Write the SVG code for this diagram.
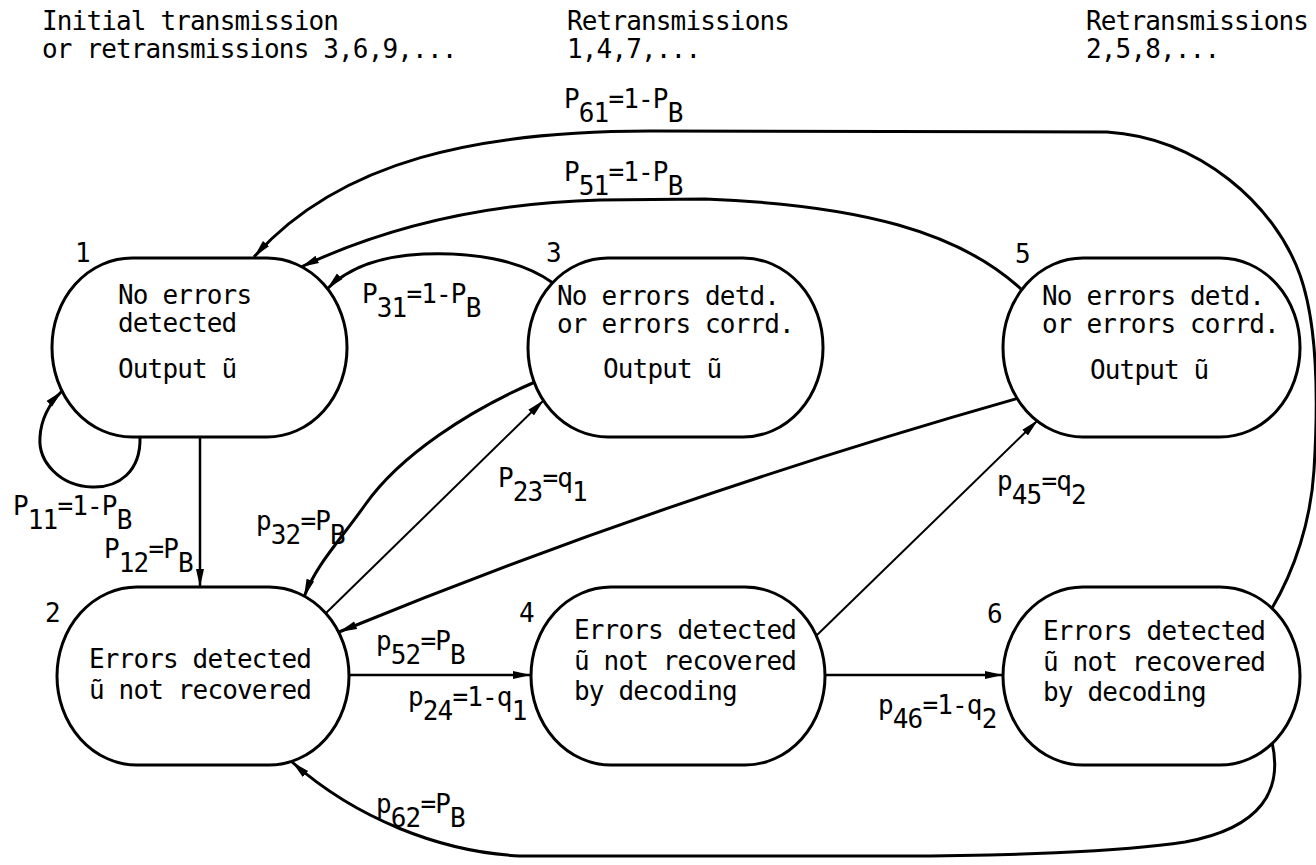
<svg xmlns="http://www.w3.org/2000/svg" width="1316" height="865" viewBox="0 0 1316 865">
<style>
.t{font-family:"DejaVu Sans Mono","Liberation Mono",monospace;font-size:26px;letter-spacing:-0.85px;fill:#000}
.node{fill:#fff;stroke:#000;stroke-width:3}
.e{fill:none;stroke:#000;stroke-width:3;marker-end:url(#ah)}
.thin{stroke-width:2}
.mid{stroke-width:2.5}
</style>
<defs>
<marker id="ah" viewBox="0 0 18 10" refX="18" refY="5" markerWidth="18" markerHeight="10" markerUnits="userSpaceOnUse" orient="auto">
<path d="M0,1 L18,5 L0,9 Z" fill="#000"/>
</marker>
</defs>
<rect width="1316" height="865" fill="#fff"/>
<g id="headers">
<text class="t" x="42" y="30">Initial transmission</text>
<text class="t" x="42" y="58">or retransmissions 3,6,9,...</text>
<text class="t" x="567" y="30">Retransmissions</text>
<text class="t" x="567" y="58">1,4,7,...</text>
<text class="t" x="1086" y="30">Retransmissions</text>
<text class="t" x="1086" y="58">2,5,8,...</text>
</g>
<g id="connectors">
<path class="e" d="M1271,610 C1295,570 1311,520 1314,470 C1319,390 1316,320 1300,275 C1275,205 1200,138 1107,132 L650,131 C480,131 340,160 254,257"/>
<path class="e" d="M1022,290 C960,232 860,205 705,199 L600,200 C490,203 390,225 301,267"/>
<path class="e" d="M553,283 C520,259 470,252 423,254 C380,256 348,268 327,289"/>
<path class="e" d="M140,437 C141,472 118,488 92,487 C60,486 38,462 40,437 C41,420 49,404 62,391"/>
<path class="e mid" d="M200,437 L200,587"/>
<path class="e" d="M535,382 C470,410 400,455 365,505 C338,543 316,565 304,597"/>
<path class="e thin" d="M325,614 L544,400"/>
<path class="e" d="M1019,398 Q660,500 339,632"/>
<path class="e mid" d="M349,675 L531,675"/>
<path class="e thin" d="M816,636 L1038,420"/>
<path class="e mid" d="M825,675 L1003,675"/>
<path class="e" d="M1272,742 C1283,790 1262,828 1185,842 C1120,852 1000,856 900,856 L520,856 C440,852 355,818 292,762"/>
</g>
<g id="edge-labels">
<text class="t" x="564" y="108">P<tspan dy="14">61</tspan><tspan dy="-14">=1-P</tspan><tspan dy="14">B</tspan></text>
<text class="t" x="564" y="181">P<tspan dy="14">51</tspan><tspan dy="-14">=1-P</tspan><tspan dy="14">B</tspan></text>
<text class="t" x="362" y="303">P<tspan dy="14">31</tspan><tspan dy="-14">=1-P</tspan><tspan dy="14">B</tspan></text>
<text class="t" x="13" y="515">P<tspan dy="14">11</tspan><tspan dy="-14">=1-P</tspan><tspan dy="14">B</tspan></text>
<text class="t" x="104" y="558">P<tspan dy="14">12</tspan><tspan dy="-14">=P</tspan><tspan dy="14">B</tspan></text>
<text class="t" x="256" y="530">p<tspan dy="14">32</tspan><tspan dy="-14">=P</tspan><tspan dy="14">B</tspan></text>
<text class="t" x="498" y="487">P<tspan dy="14">23</tspan><tspan dy="-14">=q</tspan><tspan dy="14">1</tspan></text>
<text class="t" x="997" y="490">p<tspan dy="14">45</tspan><tspan dy="-14">=q</tspan><tspan dy="14">2</tspan></text>
<text class="t" x="376" y="650">p<tspan dy="14">52</tspan><tspan dy="-14">=P</tspan><tspan dy="14">B</tspan></text>
<text class="t" x="408" y="706">p<tspan dy="14">24</tspan><tspan dy="-14">=1-q</tspan><tspan dy="14">1</tspan></text>
<text class="t" x="878" y="714">p<tspan dy="14">46</tspan><tspan dy="-14">=1-q</tspan><tspan dy="14">2</tspan></text>
<text class="t" x="376" y="813">p<tspan dy="14">62</tspan><tspan dy="-14">=P</tspan><tspan dy="14">B</tspan></text>
</g>
<g id="node1">
<rect class="node" x="52" y="258" width="295" height="179" rx="80" ry="89"/>
<text class="t" x="75" y="262">1</text>
<text class="t" x="118" y="304">No errors</text>
<text class="t" x="118" y="332">detected</text>
<text class="t" x="118" y="378">Output ũ</text>
</g>
<g id="node3">
<rect class="node" x="528" y="258" width="295" height="179" rx="80" ry="89"/>
<text class="t" x="546" y="262">3</text>
<text class="t" x="557" y="305">No errors detd.</text>
<text class="t" x="557" y="333">or errors corrd.</text>
<text class="t" x="603" y="378">Output ũ</text>
</g>
<g id="node5">
<rect class="node" x="1003" y="258" width="297" height="179" rx="80" ry="89"/>
<text class="t" x="1015" y="263">5</text>
<text class="t" x="1042" y="305">No errors detd.</text>
<text class="t" x="1042" y="333">or errors corrd.</text>
<text class="t" x="1090" y="379">Output ũ</text>
</g>
<g id="node2">
<rect class="node" x="57" y="587" width="292" height="178" rx="80" ry="89"/>
<text class="t" x="45" y="622">2</text>
<text class="t" x="89" y="668">Errors detected</text>
<text class="t" x="89" y="699">ũ not recovered</text>
</g>
<g id="node4">
<rect class="node" x="531" y="587" width="294" height="178" rx="80" ry="89"/>
<text class="t" x="519" y="622">4</text>
<text class="t" x="574" y="639">Errors detected</text>
<text class="t" x="574" y="670">ũ not recovered</text>
<text class="t" x="574" y="700">by decoding</text>
</g>
<g id="node6">
<rect class="node" x="1003" y="587" width="297" height="178" rx="80" ry="89"/>
<text class="t" x="987" y="623">6</text>
<text class="t" x="1043" y="640">Errors detected</text>
<text class="t" x="1043" y="671">ũ not recovered</text>
<text class="t" x="1043" y="701">by decoding</text>
</g>
</svg>
